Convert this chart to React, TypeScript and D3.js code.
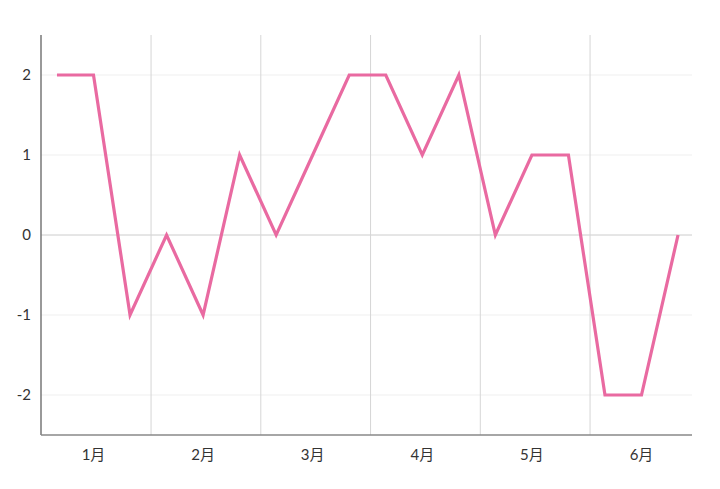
import React from "react";
import * as d3 from "d3";

const months = ["1月", "2月", "3月", "4月", "5月", "6月"];
const series = [2, 2, -1, 0, -1, 1, 0, 1, 2, 2, 1, 2, 0, 1, 1, -2, -2, 0];
const yTicks = [-2, -1, 0, 1, 2];

export default function App() {
  const W = 720, H = 489;
  const left = 41, right = 692, top = 35, bottom = 435;
  const n = series.length;
  const x = d3.scaleLinear().domain([0, n]).range([38.7, 696.3]);
  const xm = d3.scaleLinear().domain([0, months.length]).range([41.3, 699.8]);
  const y = d3.scaleLinear().domain([-2.5, 2.5]).range([bottom, top]);
  const line = d3.line<number>().x((_, i) => x(i + 0.5)).y((d) => y(d));
  const perMonth = n / months.length;
  const font = "Lato, 'Noto Sans CJK SC', sans-serif";
  return (
    <svg width={W} height={H} style={{ position: "absolute", left: 0, top: 0, background: "#fff" }}>
      {yTicks.map((t) => (
        <line key={"h" + t} x1={left} x2={right} y1={y(t)} y2={y(t)} stroke={t === 0 ? "#cccccc" : "#efefef"} strokeWidth={1} />
      ))}
      {months.slice(1).map((_, i) => (
        <line key={"v" + i} x1={xm(i + 1)} x2={xm(i + 1)} y1={top} y2={bottom} stroke="#d6d6d6" strokeWidth={1} />
      ))}
      <line x1={left} x2={left} y1={top} y2={bottom} stroke="#777" strokeWidth={1.5} />
      <line x1={left} x2={right} y1={bottom} y2={bottom} stroke="#888" strokeWidth={1.5} />
      {yTicks.map((t) => (
        <text key={"t" + t} x={31} y={y(t)} dy="0.35em" textAnchor="end" fontSize={15} fill="#333" fontFamily={font}>
          {t}
        </text>
      ))}
      {months.map((m, i) => (
        <text key={m} x={x((i + 0.5) * perMonth)} y={455} dy="0.35em" textAnchor="middle" fontSize={15} fill="#333" fontFamily={font}>
          {m}
        </text>
      ))}
      <path d={line(series) || ""} fill="none" stroke="#e96aa1" strokeWidth={3.2} strokeLinejoin="miter" />
    </svg>
  );
}
